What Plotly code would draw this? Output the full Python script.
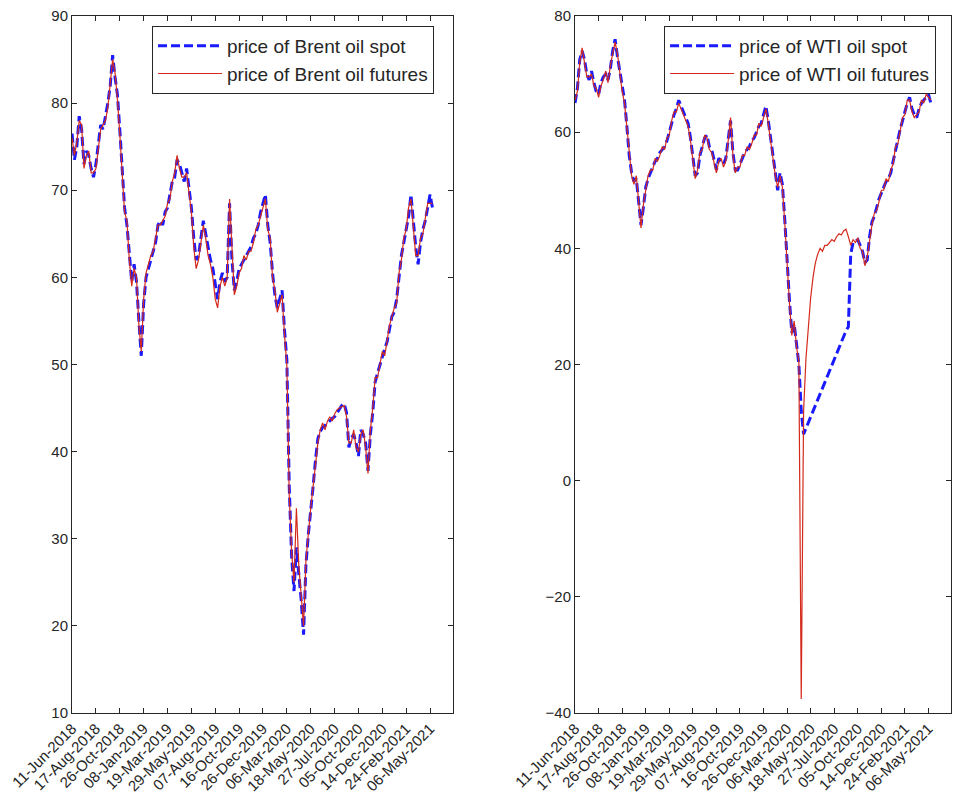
import numpy as np
import plotly.graph_objects as go

# Trading-day tick labels (one every 50 trading days, starting 11-Jun-2018)
tick_labels = [
    "11-Jun-2018", "17-Aug-2018", "26-Oct-2018", "08-Jan-2019", "19-Mar-2019",
    "29-May-2019", "07-Aug-2019", "16-Oct-2019", "26-Dec-2019", "06-Mar-2020",
    "18-May-2020", "27-Jul-2020", "05-Oct-2020", "14-Dec-2020", "24-Feb-2021",
    "06-May-2021",
]
tick_days = [50 * i for i in range(len(tick_labels))]

# Weekly samples (every 5 trading days); one row = 50 trading days
brent_spot = [
    76.5, 73.5, 75, 78.5, 77, 73, 74.5, 74, 72.5, 71.5,
    73, 75.5, 77.5, 77, 78.5, 80, 82, 85.5, 83, 81,
    77, 72.5, 68, 66, 62.5, 59.5, 61.5, 59.5, 55, 51,
    57, 60, 61, 62, 63, 64, 66, 66.5, 66, 67.5,
    68, 69.5, 71, 71.5, 73.5, 73, 72, 71, 72.5, 70.5,
    68, 64.5, 62, 62.5, 64.5, 66.5, 65, 63.5, 62, 61,
    59, 57.5, 59.5, 60.5, 59.5, 60, 68.5, 62, 58.5, 59.5,
    61, 61.5, 62, 62.5, 63, 63.5, 64.5, 65, 66, 67.5,
    68.5, 69.5, 66, 64, 60.5, 58, 56.5, 57.5, 58.5, 54,
    50.5, 36, 28, 24, 29, 26, 23, 19, 27, 30.5,
    33, 36, 39, 41.5, 42.3, 42.8, 43, 43.3, 43.5, 43.8,
    44, 44.4, 44.8, 45.3, 45.5, 44.5, 40.5, 41.5, 42, 41,
    39.5, 42.5, 42, 41, 37.8, 42, 44.5, 48, 49, 50,
    51, 51.8, 52.6, 54, 55.5, 56, 57.5, 60, 62.5, 64,
    65.5, 67, 69.5, 66, 63.5, 61.5, 64, 65.5, 66.5, 68,
    69.5, 68,
]
brent_futures = [
    76, 74, 75.5, 78, 77.5, 72.5, 74, 74.5, 72, 72,
    72.5, 75, 77, 77.5, 78, 79.5, 82.5, 85, 83.5, 80.5,
    76.5, 72, 67.5, 66.5, 62, 59, 61, 60, 54.5, 51.5,
    57.5, 60.5, 61.5, 62.5, 63, 64.5, 66, 66, 66.5, 67,
    68.5, 69, 71, 72, 74, 72.5, 71.5, 71.5, 72, 70,
    67.5, 63.5, 61, 62, 64, 66, 64.5, 62.5, 61.5, 60,
    57.5, 56.5, 59, 60, 59, 60, 69, 62.5, 58, 59,
    60.5, 61, 62.5, 62, 63, 63, 64, 65.5, 66, 67,
    68, 69, 65.5, 64.5, 60, 58.5, 56, 57, 58, 53.5,
    50, 35, 28.5, 25, 33.5, 27, 23.5, 20, 27.5, 31,
    33.5, 36, 38.5, 41, 42.5, 43.3, 42.5, 43.5, 44, 43.5,
    44.3, 44.8, 45, 45.2, 45.3, 44, 41, 41, 42.5, 40.5,
    40, 42, 42.5, 40.5, 37.5, 42.5, 45, 48.5, 48.5, 50,
    51.5, 51, 53, 54.5, 55.5, 56.5, 57, 60.5, 62, 64.5,
    65.5, 68, 69, 65.5, 62.5, 62.5, 64.5, 65, 67, 68.5,
    68.5, 68.5,
]
wti_spot = [
    65, 67.5, 72.5, 74, 72.5, 70, 69, 70.5, 68.5, 67,
    66.5, 68.5, 69.5, 70, 69, 71, 74, 76, 73, 70.5,
    67.5, 65.5, 61, 56, 53, 51.5, 52, 48.5, 44, 47,
    50.5, 52, 53, 54, 55, 55.5, 56.5, 57, 57.5, 58.5,
    60, 61.5, 63, 64, 65.5, 64.5, 63.5, 62.5, 61.5, 59,
    56, 52.5, 53, 56, 57.5, 59, 59.5, 57.5, 57, 55,
    53.5, 55.5, 55, 54.5, 55.5, 59, 62, 56.5, 53.5, 53.5,
    54.5, 55.5, 56.5, 57, 57.5, 58.5, 59, 60, 61, 61.5,
    63, 64.5, 62, 58.5, 56, 53, 50, 53, 51, 45,
    37, 31, 25.5, 27, 23.5, 20, 12, 8, 9, 10,
    11, 12, 13, 14, 15, 16, 17, 18, 19, 20,
    21, 22, 23, 24, 24.8, 25.8, 26.5, 39, 41, 41.2,
    41.5, 40.5, 39.5, 37.5, 38, 42, 44.5, 45.5, 47, 48.5,
    49.5, 50.5, 51.5, 52, 53, 55, 57, 58.5, 60.5, 62,
    63.5, 65, 66, 64, 63, 62.5, 64, 65, 65.5, 66,
    66.5, 65,
]
wti_futures = [
    65.5, 67, 72, 74.5, 72, 69.5, 69.5, 70, 68, 67.5,
    66, 68, 69, 70.5, 68.5, 71.5, 73.5, 75.5, 73.5, 70,
    67, 65, 60.5, 56.5, 52.5, 51, 52.5, 48, 43.5, 47.5,
    50, 52.5, 53.5, 53.5, 55.5, 55, 56, 57.5, 57, 59,
    59.5, 62, 63.5, 63.5, 65, 64, 63, 62, 61, 58.5,
    55.5, 52, 53.5, 56.5, 57, 59.5, 59, 57, 56.5, 54.5,
    53, 55, 55.5, 54, 55, 58.5, 62.5, 56, 53, 54,
    54, 56, 56, 57.5, 57, 58, 59.5, 59.5, 61.5, 61,
    62.5, 64, 61.5, 58, 55.5, 52.5, 50.5, 52.5, 50.5, 44.5,
    36.5, 30.5, 25, 27.5, 23, 20.5, -37.6, 12, 21, 27,
    31.5, 35, 37.5, 39, 40, 39.5, 40.5, 40.5, 41, 41.5,
    41.2, 42, 42.5, 42.3, 43, 43.3, 42, 40.5, 41.5, 41,
    41.8, 40, 39.5, 37, 38.5, 41.5, 44, 46, 46.5, 48,
    50, 50, 52, 51.5, 53.5, 54.5, 57.5, 58, 60, 62.5,
    63, 65.5, 65.5, 63.5, 62.5, 63, 63.5, 65.5, 65, 66.5,
    66, 65.5,
]

days_brent = np.arange(len(brent_spot)) * 5
days_wti = np.arange(len(wti_spot)) * 5

FONT = "Liberation Sans, Arial, Helvetica, sans-serif"
INK = "#262626"
BLUE = "#1a1aff"
RED = "#d42a1c"

fig = go.Figure()

fig.add_trace(go.Scatter(
    x=days_brent, y=brent_spot, mode="lines", name="price of Brent oil spot",
    line=dict(color=BLUE, width=3, dash="9px,4px"),
    xaxis="x", yaxis="y", legend="legend",
))
fig.add_trace(go.Scatter(
    x=days_brent, y=brent_futures, mode="lines", name="price of Brent oil futures",
    line=dict(color=RED, width=1.2),
    xaxis="x", yaxis="y", legend="legend",
))
fig.add_trace(go.Scatter(
    x=days_wti, y=wti_spot, mode="lines", name="price of WTI oil spot",
    line=dict(color=BLUE, width=3, dash="9px,4px"),
    xaxis="x2", yaxis="y2", legend="legend2",
))
fig.add_trace(go.Scatter(
    x=days_wti, y=wti_futures, mode="lines", name="price of WTI oil futures",
    line=dict(color=RED, width=1.2),
    xaxis="x2", yaxis="y2", legend="legend2",
))

axis_common = dict(
    showline=True, linecolor=INK, linewidth=1, mirror="allticks",
    ticks="inside", ticklen=5, tickcolor=INK, tickwidth=1,
    showgrid=False, zeroline=False,
    tickfont=dict(family=FONT, size=15, color=INK),
)
x_common = dict(
    axis_common, range=[0, 798], tickmode="array",
    tickvals=tick_days, ticktext=tick_labels, tickangle=-45,
)

legend_common = dict(
    bgcolor="white", bordercolor=INK, borderwidth=1,
    font=dict(family=FONT, size=19, color=INK),
    xanchor="left", yanchor="top", itemwidth=64,
    tracegroupgap=0,
)

fig.update_layout(
    width=953, height=799,
    margin=dict(l=0, r=0, t=0, b=0),
    paper_bgcolor="white", plot_bgcolor="white",
    template="none",
    xaxis=dict(x_common, domain=[0.0756, 0.4753], anchor="y"),
    yaxis=dict(axis_common, domain=[0.1076, 0.98], range=[10, 90],
               dtick=10, anchor="x"),
    xaxis2=dict(x_common, domain=[0.6034, 0.998], anchor="y2"),
    yaxis2=dict(axis_common, domain=[0.1076, 0.98], range=[-40, 80],
                dtick=20, anchor="x2"),
    legend=dict(legend_common, x=0.1595, y=0.9675),
    legend2=dict(legend_common, x=0.6968, y=0.9675),
    showlegend=True,
)

fig.write_html("out.html")
